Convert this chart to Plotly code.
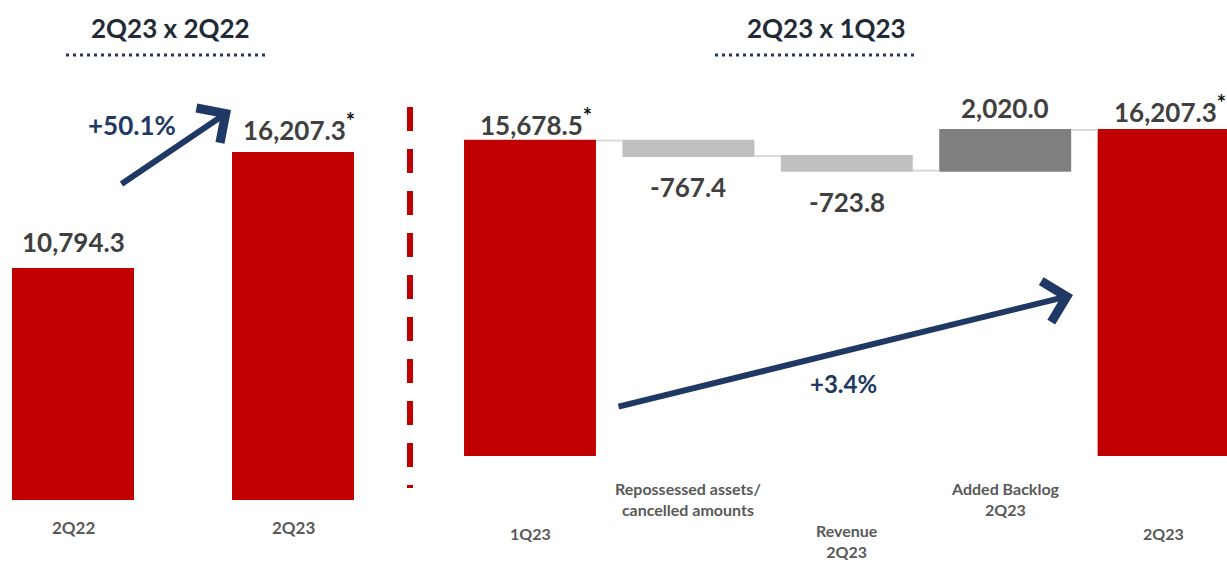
import plotly.graph_objects as go

# ---- data ----
left_categories = ["2Q22", "2Q23"]
left_values = [10794.3, 16207.3]
left_flags = ["", "*"]

wf_categories = ["1Q23", "Repossessed assets/<br>cancelled amounts", "Revenue<br>2Q23",
                 "Added Backlog<br>2Q23", "2Q23"]
wf_values = [15678.5, -767.4, -723.8, 2020.0, 16207.3]
wf_measures = ["absolute", "relative", "relative", "relative", "total"]
wf_flags = ["*", "", "", "", "*"]

yoy_change = "+50.1%"
qoq_change = "+3.4%"
titles = ["2Q23 x 2Q22", "2Q23 x 1Q23"]

# ---- styling ----
W, H = 1227, 562
RED = "#C00000"
LIGHT = "#BFBFBF"
DARK = "#7F7F7F"
NAVY = "#203864"
VAL_C = "#404040"
CAT_C = "#595959"
FONT = "Lato"


def px_y(py):
    return 1 - py / H


def px_x(px):
    return px / W


def fmt(v):
    return f"{v:,.1f}"


def flagged(v, flag):
    if not flag:
        return fmt(v)
    return fmt(v) + f"<sup><span style='color:#111111;font-size:22px'>{flag}</span></sup>"


fig = go.Figure()

fig.add_trace(go.Bar(
    x=left_categories, y=left_values, width=0.555,
    marker=dict(color=RED, line=dict(width=0)),
    xaxis="x", yaxis="y", showlegend=False, hoverinfo="x+y",
))

fig.add_trace(go.Waterfall(
    x=wf_categories, y=wf_values, measure=wf_measures, width=0.833,
    xaxis="x2", yaxis="y2", showlegend=False, textposition="none",
    totals=dict(marker=dict(color=RED, line=dict(width=0))),
    decreasing=dict(marker=dict(color=LIGHT, line=dict(width=0))),
    increasing=dict(marker=dict(color=DARK, line=dict(width=0))),
    connector=dict(mode="between", line=dict(color="#D9D9D9", width=2)),
))

annotations = []


def label(text, x, y, xref, yref, size, color, yshift=0, xshift=0, yanchor="middle"):
    annotations.append(dict(
        text=text, x=x, y=y, xref=xref, yref=yref, showarrow=False,
        xanchor="center", yanchor=yanchor, yshift=yshift, xshift=xshift,
        font=dict(family=FONT, size=size, color=color, weight="bold"),
    ))


# value labels, left panel
for i, (v, f) in enumerate(zip(left_values, left_flags)):
    label(flagged(v, f), i, v, "x", "y", 26, VAL_C, yshift=26, xshift=6 if f else 0)

# value labels, waterfall
running = 0.0
for i, (v, m, f) in enumerate(zip(wf_values, wf_measures, wf_flags)):
    if m == "absolute":
        start, end = 0.0, v
        running = v
    elif m == "total":
        start, end = 0.0, running
    else:
        start, end = running, running + v
        running = end
    shown = end if m != "relative" else v
    t = flagged(shown, f)
    if m == "relative" and v < 0:
        label(t, i, end, "x2", "y2", 26, VAL_C, yshift=-31)
    elif m == "absolute":
        label(t, i, end, "x2", "y2", 26, VAL_C, yshift=19, xshift=6)
    else:
        label(t, i, max(start, end), "x2", "y2", 26, VAL_C, yshift=22, xshift=6 if f else 0)

# category labels
for i, c in enumerate(left_categories):
    label(c, i, px_y(527), "x", "paper", 17, CAT_C)
wf_cat_y = [533, 499, 541, 499, 533]
for i, (c, py) in enumerate(zip(wf_categories, wf_cat_y)):
    label(c, i, px_y(py), "x2", "paper", 16, CAT_C)

# panel titles
label(titles[0], px_x(170), px_y(28), "paper", "paper", 26, "#222A35")
label(titles[1], px_x(826), px_y(28), "paper", "paper", 26, "#222A35")

# growth arrows
arrow_style = dict(showarrow=True, arrowhead=4, arrowsize=1.35, arrowwidth=6,
                   arrowcolor=NAVY, text="", xref="paper", yref="paper",
                   axref="pixel", ayref="pixel")
annotations.append(dict(x=px_x(231), y=px_y(110), ax=-111, ay=75, **arrow_style))
annotations.append(dict(x=px_x(1073), y=px_y(295), ax=-456, ay=112, **arrow_style))

label(yoy_change, px_x(132), px_y(125), "paper", "paper", 26, NAVY)
label(qoq_change, px_x(843), px_y(383), "paper", "paper", 24, NAVY)

shapes = [
    # dotted underlines beneath titles
    dict(type="line", xref="paper", yref="paper", x0=px_x(66), x1=px_x(268),
         y0=px_y(55), y1=px_y(55), line=dict(color=NAVY, width=3, dash="3px,4px")),
    dict(type="line", xref="paper", yref="paper", x0=px_x(715), x1=px_x(915),
         y0=px_y(55), y1=px_y(55), line=dict(color=NAVY, width=3, dash="3px,4px")),
    # dashed divider between panels
    dict(type="line", xref="paper", yref="paper", x0=px_x(410), x1=px_x(410),
         y0=px_y(107), y1=px_y(488), line=dict(color=RED, width=6, dash="24px,18px")),
]

axis_common = dict(showgrid=False, zeroline=False, showline=False,
                   showticklabels=False, ticks="", fixedrange=True)

fig.update_layout(
    width=W, height=H,
    margin=dict(l=0, r=0, t=0, b=0),
    paper_bgcolor="white", plot_bgcolor="white",
    xaxis=dict(domain=[0, 410 / W], range=[-73 / 220, -73 / 220 + 410 / 220],
               type="category", **axis_common),
    yaxis=dict(domain=[62 / H, 1], range=[0, 500 / 0.021472], **axis_common),
    xaxis2=dict(domain=[420 / W, 1], range=[-110 / 158.4, -110 / 158.4 + 807 / 158.4],
                type="category", anchor="y2", **axis_common),
    yaxis2=dict(domain=[106 / H, 1], range=[0, 456 / 0.020114], anchor="x2", **axis_common),
    annotations=annotations,
    shapes=shapes,
    bargap=0,
)

fig.write_html("out.html")
